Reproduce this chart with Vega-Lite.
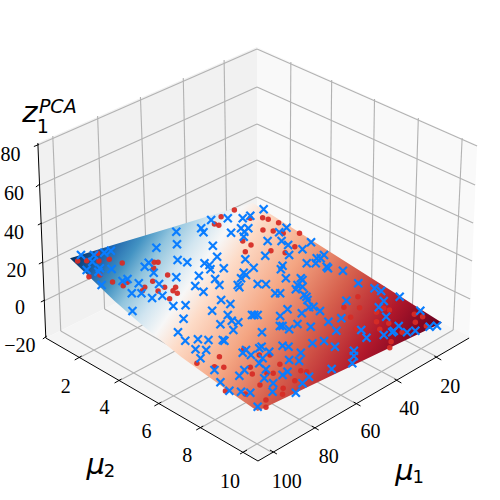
{"$schema":"https://vega.github.io/schema/vega-lite/v6.json","width":500,"height":500,"padding":0,"autosize":{"type":"fit","contains":"padding"},"background":"white","config":{"view":{"stroke":null}},
"encoding":{"x":{"field":"u","type":"quantitative","scale":{"domain":[0,500],"nice":false,"zero":false},"axis":null},"y":{"field":"v","type":"quantitative","scale":{"domain":[500,0],"nice":false,"zero":false},"axis":null}},
"layer":[
{"data":{"values":[
{"pane":"left","u":36,"v":143,"v2":143},{"pane":"left","u":44,"v":139.5,"v2":338},{"pane":"left","u":256,"v":47,"v2":233},
{"pane":"right","u":256,"v":47,"v2":233},{"pane":"right","u":469,"v":141.5,"v2":336},{"pane":"right","u":477,"v":145,"v2":145},
{"pane":"floor","u":44,"v":338,"v2":338},{"pane":"floor","u":256,"v":233,"v2":460.5},{"pane":"floor","u":257,"v":233.5,"v2":461},{"pane":"floor","u":469,"v":336,"v2":338}]},
"mark":{"type":"area","opacity":1},"encoding":{"y2":{"field":"v2"},"color":{"field":"pane","type":"nominal","legend":null,"scale":{"domain":["left","right","floor"],"range":["#f1f1f1","#f9f9f9","#f5f5f5"]}}}},
{"data":{"values":[
{"u":36,"v":145,"u2":256,"v2":49},{"u":38,"v":185,"u2":256,"v2":87},{"u":39,"v":224,"u2":256,"v2":124},{"u":41,"v":263,"u2":256,"v2":160},{"u":42,"v":301,"u2":256,"v2":197},
{"u":256,"v":49,"u2":477,"v2":146},{"u":256,"v":87,"u2":475,"v2":185},{"u":256,"v":124,"u2":473,"v2":223},{"u":256,"v":160,"u2":472,"v2":261},{"u":256,"v":197,"u2":470,"v2":299},
{"u":51,"v":136,"u2":59,"v2":331},{"u":96,"v":116,"u2":103,"v2":309},{"u":139,"v":97,"u2":146,"v2":287},{"u":182,"v":78,"u2":186,"v2":268},{"u":223,"v":60,"u2":226,"v2":248},
{"u":290,"v":62,"u2":289,"v2":249},{"u":331,"v":80,"u2":329,"v2":269},{"u":374,"v":99,"u2":371,"v2":290},{"u":418,"v":118,"u2":412,"v2":310},{"u":462,"v":138,"u2":453,"v2":330},
{"u":59,"v":331,"u2":272,"v2":453},{"u":103,"v":309,"u2":314,"v2":428},{"u":146,"v":287,"u2":356,"v2":404},{"u":186,"v":268,"u2":397,"v2":380},{"u":226,"v":248,"u2":437,"v2":357},
{"u":289,"v":249,"u2":77,"v2":358},{"u":329,"v":269,"u2":117,"v2":381},{"u":371,"v":290,"u2":157,"v2":404},{"u":412,"v":310,"u2":199,"v2":428},{"u":453,"v":330,"u2":242,"v2":452}]},
"mark":{"type":"rule","color":"#b2b2b2","strokeWidth":1.1},"encoding":{"x2":{"field":"u2"},"y2":{"field":"v2"}}},
{"data":{"values":[
{"u":36,"v":143,"u2":44,"v2":338},{"u":44,"v":338,"u2":257,"v2":461},{"u":257,"v":461,"u2":469,"v2":338},
{"u":32,"v":146.5,"u2":37,"v2":144.5},{"u":34,"v":187,"u2":38,"v2":184},{"u":36,"v":225,"u2":40,"v2":223},{"u":37,"v":264,"u2":41,"v2":262},{"u":39,"v":302,"u2":43,"v2":300},{"u":41,"v":339,"u2":45,"v2":336},
{"u":73,"v":360,"u2":80,"v2":356},{"u":113,"v":383,"u2":120,"v2":379},{"u":153,"v":406,"u2":160,"v2":402},{"u":195,"v":430,"u2":202,"v2":426},{"u":239,"v":454,"u2":246,"v2":450},
{"u":434,"v":356,"u2":441,"v2":360},{"u":394,"v":379,"u2":401,"v2":383},{"u":353,"v":402,"u2":360,"v2":406},{"u":311,"v":426,"u2":318,"v2":430},{"u":269,"v":450,"u2":276,"v2":454}]},
"mark":{"type":"rule","color":"#000000","strokeWidth":1},"encoding":{"x2":{"field":"u2"},"y2":{"field":"v2"}}},
{"data":{"values":[
{"u":68.3,"v":258.3,"v2":258.3},{"u":113,"v":244.6,"v2":301},{"u":141.7,"v":236,"v2":326},{"u":180,"v":224.4,"v2":357},{"u":226.7,"v":210.3,"v2":390.5},{"u":252,"v":203,"v2":408},{"u":256.7,"v":206,"v2":411},{"u":441.7,"v":322.7,"v2":322.7}]},
"mark":{"type":"area","color":{"gradient":"linear","x1":0,"y1":0.267,"x2":0.976,"y2":0.638,"stops":[{"offset":0,"color":"#053061"},{"offset":0.08,"color":"#2166ac"},{"offset":0.14,"color":"#4393c3"},{"offset":0.2,"color":"#92c5de"},{"offset":0.27,"color":"#d1e5f0"},{"offset":0.33,"color":"#f7f7f7"},{"offset":0.4,"color":"#fddbc7"},{"offset":0.55,"color":"#f4a582"},{"offset":0.7,"color":"#d6604d"},{"offset":0.86,"color":"#b2182b"},{"offset":1,"color":"#67001f"}]}},"encoding":{"y2":{"field":"v2"}}},
{"data":{"values":[
{"u":76,"v":261},{"u":85,"v":260.7},{"u":97.3,"v":261},{"u":107.7,"v":259.3},{"u":120.7,"v":263},{"u":96,"v":253.3},{"u":87.3,"v":276.7},{"u":98.3,"v":275},{"u":111,"v":282},{"u":121.7,"v":285.7},{"u":125.7,"v":282.3},{"u":141,"v":290.7},{"u":143.3,"v":287.3},{"u":156.7,"v":262.3},{"u":152.7,"v":262.3},{"u":152.3,"v":268.3},{"u":166.3,"v":275},{"u":151.3,"v":281.3},{"u":163.3,"v":287.3},{"u":174.3,"v":287.3},{"u":171.7,"v":290.7},{"u":176,"v":293.3},{"u":168.3,"v":298.7},{"u":156.7,"v":291},{"u":213.3,"v":224},{"u":217.7,"v":225.3},{"u":220,"v":216.7},{"u":233.3,"v":210},{"u":249.3,"v":218.3},{"u":241.7,"v":241},{"u":250,"v":245},{"u":244.3,"v":251.7},{"u":218.3,"v":356.7},{"u":195.7,"v":363.3},{"u":213.3,"v":366.7},{"u":222.7,"v":367.3},{"u":242.7,"v":349.3},{"u":249.3,"v":367.3},{"u":251.3,"v":374},{"u":259,"v":385},{"u":224.3,"v":391},
{"u":261.7,"v":217.7},{"u":267.3,"v":219.3},{"u":277.7,"v":222.7},{"u":262,"v":230},{"u":272.3,"v":231},{"u":282.3,"v":233.3},{"u":298.7,"v":233.3},{"u":294,"v":246.7},{"u":270,"v":250.7},{"u":284.3,"v":252.7},{"u":357.3,"v":296.7},{"u":343.3,"v":307.3},{"u":359,"v":307.7},{"u":350,"v":317.3},{"u":376,"v":312.3},{"u":389,"v":310},{"u":383.3,"v":308.3},{"u":414,"v":314.3},{"u":422.3,"v":316.7},{"u":376,"v":321.7},{"u":415,"v":322.3},{"u":356,"v":328.3},{"u":379.3,"v":329.3},{"u":388.3,"v":323.3},{"u":401.7,"v":332.3},{"u":426,"v":326},{"u":390.7,"v":341.7},{"u":389.3,"v":347.7},{"u":272.3,"v":373.3},{"u":279,"v":364.3},{"u":300,"v":370.7},{"u":306,"v":371.7},{"u":294,"v":380.7},{"u":282.3,"v":388.3},{"u":281.7,"v":394.3},{"u":265,"v":400},{"u":265,"v":407.3},{"u":244.3,"v":394},{"u":269,"v":355},{"u":258.3,"v":355},{"u":266,"v":373.3}]},
"mark":{"type":"point","shape":"circle","filled":true,"color":"#d62c26","opacity":0.95,"size":30}},
{"data":{"values":[
{"u":79.3,"v":255},{"u":92.3,"v":255},{"u":109.3,"v":250.7},{"u":102.7,"v":252.7},{"u":90.7,"v":261.7},{"u":85,"v":270},{"u":98.3,"v":268.3},{"u":110,"v":269},{"u":100,"v":285},{"u":96.7,"v":271.7},{"u":155,"v":247.7},{"u":175,"v":231.7},{"u":175.7,"v":244.3},{"u":176.3,"v":260},{"u":186,"v":262.3},{"u":143.3,"v":266.7},{"u":147.3,"v":262.7},{"u":152.3,"v":272.7},{"u":126,"v":279},{"u":121,"v":281},{"u":137.3,"v":283.3},{"u":130.3,"v":293.3},{"u":140,"v":293.3},{"u":157.7,"v":284},{"u":150.7,"v":298},{"u":161,"v":295.7},{"u":131,"v":311},{"u":175,"v":277.3},{"u":172,"v":306},{"u":184.3,"v":305.3},{"u":182.3,"v":318.7},{"u":176.7,"v":332.3},{"u":184,"v":340.7},{"u":196.7,"v":339.3},{"u":207.3,"v":340},{"u":194.3,"v":349.3},{"u":205,"v":350},{"u":199.3,"v":358.3},{"u":221.7,"v":340},{"u":223.3,"v":340.7},{"u":200,"v":228.3},{"u":202.3,"v":232.3},{"u":211.7,"v":245.7},{"u":210,"v":220},{"u":226.7,"v":218.3},{"u":230,"v":232.7},{"u":241.7,"v":218.3},{"u":249.3,"v":215.7},{"u":240,"v":228.3},{"u":243.3,"v":231.7},{"u":247.3,"v":228.3},{"u":242.7,"v":236.7},{"u":216,"v":256.7},{"u":208.3,"v":265},{"u":203.3,"v":263.3},{"u":209.3,"v":269.3},{"u":222.7,"v":268.3},{"u":197.7,"v":275.7},{"u":214,"v":279},{"u":218.3,"v":285},{"u":194,"v":286},{"u":202.3,"v":291.7},{"u":244.3,"v":259.3},{"u":252.7,"v":267.7},{"u":242.7,"v":272.7},{"u":240,"v":278.3},{"u":236.7,"v":285},{"u":238.3,"v":287.3},{"u":245,"v":275},{"u":220,"v":300},{"u":229.3,"v":304},{"u":211,"v":310.7},{"u":226.7,"v":315},{"u":219.3,"v":324.3},{"u":230.7,"v":320.7},{"u":237.3,"v":322.3},{"u":232.3,"v":330},{"u":251,"v":315},{"u":256.7,"v":315},{"u":245,"v":350},{"u":241.7,"v":352.7},{"u":250,"v":355},{"u":258.3,"v":348.3},{"u":213.3,"v":370},{"u":219.3,"v":382.3},{"u":228.3,"v":390.7},{"u":238.3,"v":375.7},{"u":243.3,"v":370},{"u":240,"v":391.7},{"u":249.3,"v":392.7},{"u":256.7,"v":406.7},{"u":258.3,"v":363.3},
{"u":262.7,"v":209.3},{"u":285.7,"v":227.7},{"u":278.3,"v":232.3},{"u":280.7,"v":241},{"u":266.7,"v":241},{"u":310.3,"v":242.3},{"u":301.7,"v":249.3},{"u":287.3,"v":245},{"u":288.3,"v":255},{"u":264.3,"v":255.7},{"u":323.3,"v":255},{"u":316,"v":258.3},{"u":306,"v":263.3},{"u":315,"v":263.3},{"u":327.3,"v":268.3},{"u":281.7,"v":265.7},{"u":280,"v":269.3},{"u":342.3,"v":270.7},{"u":285,"v":278.3},{"u":300,"v":278.3},{"u":295,"v":289.3},{"u":301.7,"v":286.7},{"u":303.3,"v":295},{"u":306.7,"v":300},{"u":256.7,"v":284},{"u":265,"v":284.3},{"u":274.3,"v":293.3},{"u":279.3,"v":293.3},{"u":357.7,"v":283.3},{"u":374,"v":288.3},{"u":380.7,"v":291},{"u":399.3,"v":296.7},{"u":345.7,"v":300.7},{"u":383.3,"v":301},{"u":378.3,"v":307.3},{"u":420,"v":310.7},{"u":385.7,"v":316.7},{"u":436.7,"v":325.7},{"u":429.3,"v":326.7},{"u":398.3,"v":326},{"u":415,"v":330.7},{"u":406.7,"v":332.3},{"u":391.7,"v":332.3},{"u":383.3,"v":335},{"u":360.7,"v":330},{"u":366,"v":337.7},{"u":340.7,"v":318.3},{"u":327.7,"v":321.7},{"u":335.7,"v":330.7},{"u":319.3,"v":311},{"u":312.7,"v":306.7},{"u":308.3,"v":307.3},{"u":301,"v":313.3},{"u":286.7,"v":309.3},{"u":279.3,"v":316},{"u":253.3,"v":315},{"u":261,"v":332.3},{"u":279,"v":326},{"u":281.7,"v":326},{"u":288.3,"v":329.3},{"u":296.7,"v":324},{"u":310,"v":326.7},{"u":311.7,"v":343.3},{"u":323.3,"v":341},{"u":334.3,"v":346.7},{"u":353.3,"v":350.7},{"u":353.3,"v":356},{"u":351.7,"v":363.3},{"u":331,"v":369},{"u":281.7,"v":345.7},{"u":287.7,"v":346.7},{"u":300,"v":352.7},{"u":288.3,"v":360},{"u":298.3,"v":361},{"u":260.7,"v":346.7},{"u":261.7,"v":358.3},{"u":268.3,"v":351.7},{"u":265,"v":369.3},{"u":263.3,"v":378.3},{"u":286.7,"v":371.7},{"u":281.7,"v":375},{"u":308.3,"v":376.7},{"u":301.7,"v":383.3},{"u":272.3,"v":383.3},{"u":271.7,"v":391.7},{"u":295,"v":392.7},{"u":305.7,"v":296.7},{"u":296.7,"v":285},{"u":301.7,"v":280},{"u":320,"v":258.3},{"u":326,"v":266.7},{"u":393.3,"v":331}]},
"mark":{"type":"point","shape":"M-1,-1L1,1M-1,1L1,-1","filled":false,"color":"#0a7dff","opacity":1,"strokeWidth":2.2,"size":64}},
{"data":{"values":[
{"u":8.5,"v":155,"t":"80"},{"u":12,"v":194,"t":"60"},{"u":12,"v":233,"t":"40"},{"u":14.5,"v":271,"t":"20"},{"u":18,"v":308,"t":"0"},{"u":18,"v":346,"t":"−20"},
{"u":64,"v":387,"t":"2"},{"u":103,"v":408,"t":"4"},{"u":145,"v":432,"t":"6"},{"u":186,"v":456,"t":"8"},{"u":229,"v":482,"t":"10"},
{"u":450,"v":387,"t":"20"},{"u":409,"v":409,"t":"40"},{"u":370,"v":432,"t":"60"},{"u":328,"v":457,"t":"80"},{"u":286,"v":482,"t":"100"}]},
"mark":{"type":"text","font":"Liberation Serif, Times New Roman, serif","fontSize":20,"color":"#000000","align":"center","baseline":"middle"},"encoding":{"text":{"field":"t"}}},
{"data":{"values":[{"u":94,"v":465,"t":"μ"},{"u":404,"v":471,"t":"μ"}]},
"mark":{"type":"text","font":"DejaVu Sans","fontStyle":"italic","fontSize":29,"color":"#000000","align":"center","baseline":"middle"},"encoding":{"text":{"field":"t"}}},
{"data":{"values":[{"u":108,"v":472,"t":"2"},{"u":418,"v":478,"t":"1"}]},
"mark":{"type":"text","font":"DejaVu Sans","fontSize":18,"color":"#000000","align":"center","baseline":"middle"},"encoding":{"text":{"field":"t"}}},
{"data":{"values":[{"u":28,"v":113,"t":"z"}]},
"mark":{"type":"text","font":"DejaVu Sans","fontStyle":"italic","fontSize":29,"color":"#000000","align":"center","baseline":"middle"},"encoding":{"text":{"field":"t"}}},
{"data":{"values":[{"u":56,"v":107,"t":"PCA"}]},
"mark":{"type":"text","font":"DejaVu Sans","fontStyle":"italic","fontSize":19,"color":"#000000","align":"center","baseline":"middle"},"encoding":{"text":{"field":"t"}}},
{"data":{"values":[{"u":41,"v":127,"t":"1"}]},
"mark":{"type":"text","font":"DejaVu Sans","fontSize":19,"color":"#000000","align":"center","baseline":"middle"},"encoding":{"text":{"field":"t"}}}
]}
